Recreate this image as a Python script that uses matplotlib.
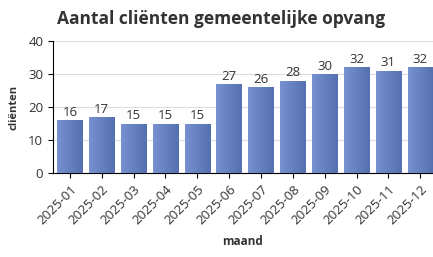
import matplotlib
matplotlib.use('Agg')
import matplotlib.pyplot as plt
import numpy as np

months = ['2025-01', '2025-02', '2025-03', '2025-04', '2025-05', '2025-06',
          '2025-07', '2025-08', '2025-09', '2025-10', '2025-11', '2025-12']
clients = [16, 17, 15, 15, 15, 27, 26, 28, 30, 32, 31, 32]

plt.rcParams['font.family'] = ['Open Sans', 'DejaVu Sans']

fig = plt.figure(figsize=(4.33, 2.57), dpi=100)
ax = fig.add_axes([0.1224, 0.3268, 0.8776, 0.5137])

x = np.arange(len(months))
bars = ax.bar(x, clients, width=0.8, color='#6680c0', zorder=2)

# horizontal gradient inside each bar, light left -> darker right
grad = np.linspace(0, 1, 64).reshape(1, -1)
cmap = matplotlib.colors.LinearSegmentedColormap.from_list('bar', ['#7891d0', '#5470b0'])
for b in bars:
    x0, w, h = b.get_x(), b.get_width(), b.get_height()
    im = ax.imshow(grad, cmap=cmap, aspect='auto', extent=(x0, x0 + w, 0, h), zorder=3)
    im.set_clip_path(b)

for xi, v in zip(x, clients):
    ax.text(xi, v + 0.4, str(v), ha='center', va='bottom', fontsize=9.5, color='#333333', zorder=4)

ax.set_xlim(-0.53, 11.4)
ax.set_ylim(0, 40)
ax.set_yticks([0, 10, 20, 30, 40])
ax.set_xticks(x)
ax.set_xticklabels(months, rotation=45, ha='right', rotation_mode='anchor', fontsize=9.5, color='#333333')
ax.tick_params(axis='y', labelsize=9.5, labelcolor='#333333')
ax.yaxis.grid(True, color='#dddddd', linewidth=0.8, zorder=0)
ax.set_axisbelow(True)
for s in ['top', 'right']:
    ax.spines[s].set_visible(False)

ax.set_ylabel('cliënten', fontsize=8, fontweight='bold', color='#333333', labelpad=6)
ax.set_xlabel('maand', fontsize=8.5, fontweight='bold', color='#333333', labelpad=6)
fig.text(0.51, 0.928, 'Aantal cliënten gemeentelijke opvang', ha='center', va='center',
         fontsize=12.5, fontweight='bold', color='#333333')

fig.savefig('out.png', dpi=100)
